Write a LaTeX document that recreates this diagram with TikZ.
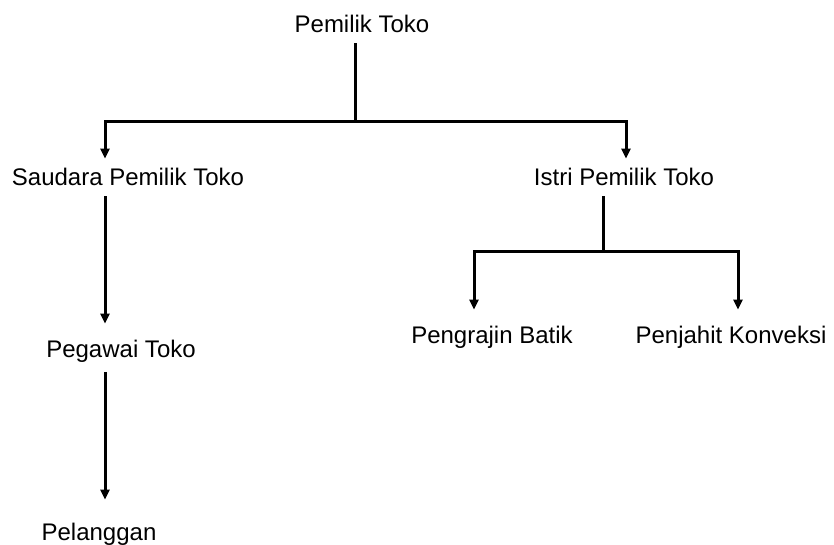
\documentclass[tikz,border=0pt]{standalone}
\usepackage{fontspec}
\setmainfont{Liberation Sans}
\usetikzlibrary{arrows.meta}

\tikzset{
  lbl/.style={inner sep=0pt, outer sep=10pt, anchor=base, font=\fontsize{24}{28}\selectfont},
  link/.style={line width=3pt},
  arr/.style={link, -{Triangle[length=10pt,width=9pt]}},
}

\begin{document}
\begin{tikzpicture}[x=1pt,y=-1pt]
  \useasboundingbox (0,0) rectangle (834,545);

  % people
  \node[lbl] (owner) at (362,33) {Pemilik Toko};
  \node[lbl] (sibling) at (128,186) {Saudara Pemilik Toko};
  \node[lbl] (wife) at (624,186) {Istri Pemilik Toko};
  \node[lbl] (staff) at (121,357) {Pegawai Toko};
  \node[lbl] (customer) at (99,540) {Pelanggan};
  \node[lbl] (batik) at (492,343) {Pengrajin Batik};
  \node[lbl] (tailor) at (731,343) {Penjahit Konveksi};

  % branch points and columns
  \coordinate (ownerhub) at (355,122);
  \coordinate (wifehub) at (603,251);
  \coordinate (leftcol) at (105,0);
  \coordinate (wifecol) at (626,0);
  \coordinate (batikcol) at (474,0);
  \coordinate (tailorcol) at (738,0);

  \draw[link] (owner.south -| ownerhub) -- (ownerhub);
  \draw[arr] (ownerhub) -| (sibling.north -| leftcol);
  \draw[arr] (ownerhub) -| (wife.north -| wifecol);
  \draw[arr, shorten >=6pt] (sibling.south -| leftcol) -- (staff.north -| leftcol);
  \draw[arr, shorten >=13pt] (staff.south -| leftcol) -- (customer.north -| leftcol);

  \draw[link] (wife.south -| wifehub) -- (wifehub);
  \draw[arr, shorten >=6pt] (wifehub) -| (batik.north -| batikcol);
  \draw[arr, shorten >=6pt] (wifehub) -| (tailor.north -| tailorcol);
\end{tikzpicture}
\end{document}
